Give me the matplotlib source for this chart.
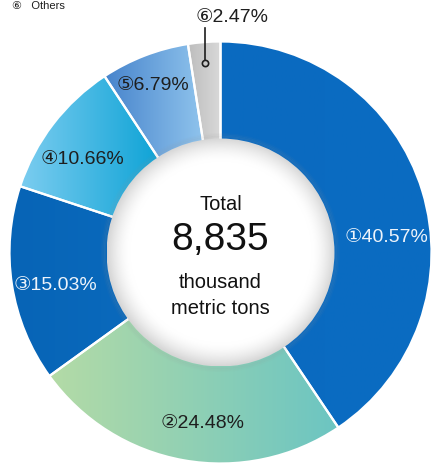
import numpy as np
import matplotlib
matplotlib.use("Agg")
import matplotlib.pyplot as plt
from matplotlib.colors import to_rgb
from matplotlib.patches import Circle

plt.rcParams['font.family'] = ['Liberation Sans', 'DejaVu Sans']

# Share of total volume by category (percent), clockwise from 12 o'clock
markers = ['①', '②', '③', '④', '⑤', '⑥']
shares = [40.57, 24.48, 15.03, 10.66, 6.79, 2.47]
total_value = "8,835"
total_unit = ["thousand", "metric tons"]

# Horizontal gradient (left colour, right colour) for each slice
slice_colors = [
    ('#0a6ac0', '#0a6cc2'),
    ('#b4dba6', '#6cc5c2'),
    ('#0764b6', '#0a6abd'),
    ('#7ccdf0', '#06a0d4'),
    ('#4784cc', '#92c6ee'),
    ('#bdbdbd', '#d9d9d9'),
]
label_colors = ['#eef4fb', '#1e1e1e', '#eef4fb', '#1e1e1e', '#1e1e1e', '#1e1e1e']

W, H = 434, 466
fig = plt.figure(figsize=(W / 100, H / 100), dpi=100)
ax = fig.add_axes([0, 0, 1, 1])

cx, cy = 220.5, H - 252.5
R = 211
hole_r = 114

wedges, _ = ax.pie(shares, startangle=90, counterclock=False, radius=R,
                   center=(cx, cy),
                   wedgeprops=dict(width=R * 0.56, facecolor='none',
                                   edgecolor='white', linewidth=1.6, zorder=3))

# Fill each slice with its gradient, clipped to the wedge outline
for w, (c0, c1) in zip(wedges, slice_colors):
    ext = w.get_path().get_extents()
    t = np.linspace(0, 1, 256)[None, :, None]
    img = (1 - t) * np.array(to_rgb(c0)) + t * np.array(to_rgb(c1))
    im = ax.imshow(img, extent=(ext.x0, ext.x1, ext.y0, ext.y1),
                   interpolation='bilinear', aspect='auto', zorder=2)
    im.set_clip_path(w)

# Centre disc with a soft grey rim
n = 400
yy, xx = np.mgrid[-1:1:n * 1j, -1:1:n * 1j]
rr = np.sqrt(xx ** 2 + yy ** 2)
shade = np.clip((rr - 0.80) / 0.20, 0, 1) ** 1.6
disc = np.ones((n, n, 3)) - shade[..., None] * (1 - np.array(to_rgb('#d6d6d6')))
disc_im = ax.imshow(disc, extent=(cx - hole_r, cx + hole_r, cy - hole_r, cy + hole_r),
                    interpolation='bilinear', aspect='auto', zorder=5)
clip_circle = Circle((cx, cy), hole_r, transform=ax.transData)
disc_im.set_clip_path(clip_circle)
for k, a in enumerate([0.10, 0.07, 0.04]):
    ax.add_patch(Circle((cx, cy), hole_r + 1.5 + 1.5 * k, facecolor='none',
                        edgecolor='#9a9a9a', linewidth=1.5, alpha=a, zorder=4))

# Slice labels
label_pos = [(386, 237), (203, 423), (55, 285), (82, 159), (153, 86)]
for i, (x, y) in enumerate(label_pos):
    ax.text(x, H - y, f"{markers[i]}{shares[i]:.2f}%", ha='center', va='center',
            fontsize=14, color=label_colors[i], zorder=6)

# Small slice labelled outside with a leader line
ax.plot([205, 205], [H - 63, H - 28], color='#1e1e1e', lw=1.2, zorder=6)
ax.plot([205], [H - 63], marker='o', ms=4.5, mfc='#c8c8c8', mec='#1e1e1e',
        mew=1.2, zorder=7)
ax.text(196, H - 18, f"{markers[5]}{shares[5]:.2f}%", ha='left', va='center',
        fontsize=14, color=label_colors[5], zorder=6)

# Legend line at the top edge
ax.text(12, H - 1, "⑥   Others", ha='left', va='top', fontsize=8,
        color='#1e1e1e', zorder=6)

# Centre total
ax.text(cx, H - 204, "Total", ha='center', va='center', fontsize=14.5,
        color='#111111', zorder=6)
ax.text(cx, H - 240, total_value, ha='center', va='center', fontsize=28,
        color='#111111', zorder=6)
ax.text(cx, H - 282, total_unit[0], ha='center', va='center', fontsize=14.5,
        color='#111111', zorder=6)
ax.text(cx, H - 309, total_unit[1], ha='center', va='center', fontsize=14.5,
        color='#111111', zorder=6)

ax.set_xlim(0, W)
ax.set_ylim(0, H)
ax.set_aspect('auto')
ax.axis('off')

fig.savefig('out.png', dpi=100, facecolor='white')
